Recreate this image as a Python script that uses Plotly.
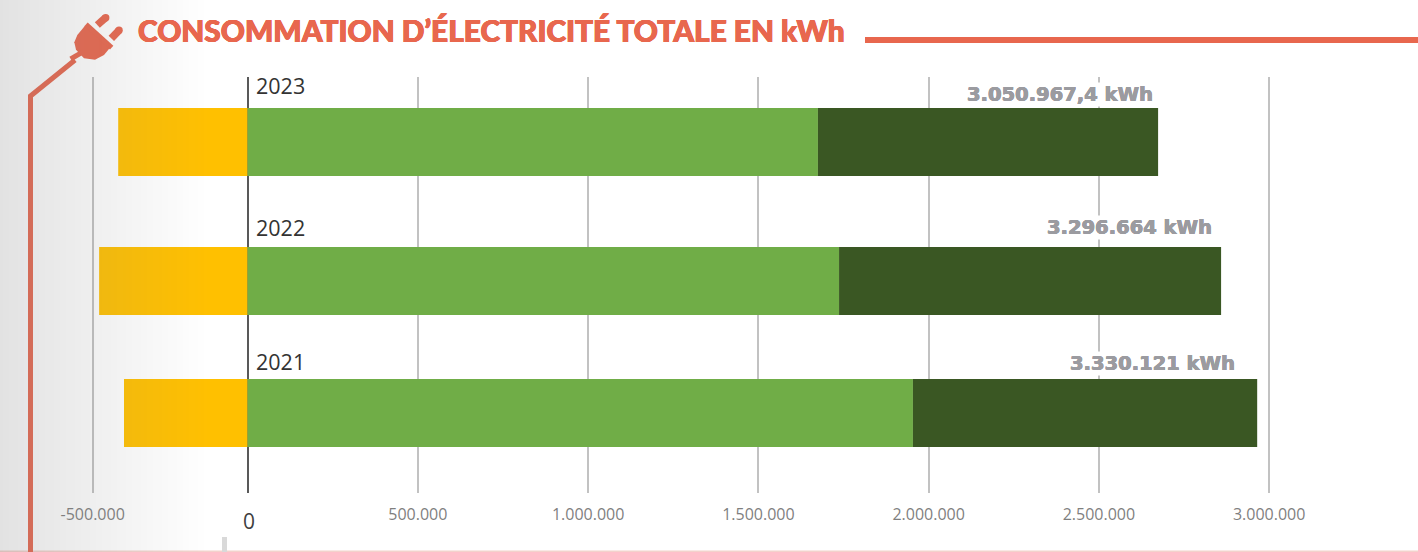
import plotly.graph_objects as go

# ---- data ----
years = ["2021", "2022", "2023"]
injected = [-363000, -436000, -380000]      # orange, left of zero
green_part = [1954000, 1737000, 1675000]    # light green
dark_part = [1011000, 1122000, 999000]      # dark green
total_labels = ["3.330.121 kWh", "3.296.664 kWh", "3.050.967,4 kWh"]
tick_labels = ["-500.000", "500.000", "1.000.000", "1.500.000", "2.000.000", "2.500.000", "3.000.000"]
tick_values = [-455000, 500000, 1000000, 1500000, 2000000, 2500000, 3000000]  # the source draws -500.000 off-scale

# ---- layout constants (pixels of the 1418x552 page) ----
W, H = 1418, 552
TOP, BOTTOM = 77, 493
ZERO_PX, PX_PER_UNIT = 247.6, 340.5 / 1e6
BAR_WIDTH = 0.502
bar_offset = [-BAR_WIDTH / 2, -BAR_WIDTH / 2 - 0.026, -BAR_WIDTH / 2]
year_shift = [52, 50.5, 57]
total_shift_y = [50, 50.5, 48]
total_shift_x = [-21, -8, -4]

RED = "#e8674e"
GREY_TEXT = "#9b9ba0"
ORANGE, GREEN, DARK = "#ffc000", "#70ad47", "#3a5723"


def fx(px):
    return px / W


def fy(py):
    return 1 - (py - TOP) / (BOTTOM - TOP)


def zoomed(x, y):
    return 20 + x / 3, 5 + y / 3


def path(points, close=True):
    s = "M " + " L ".join(f"{fx(x):.5f},{fy(y):.5f}" for x, y in points)
    return s + (" Z" if close else "")


def paper(**kw):
    return dict(xref="paper", yref="paper", **kw)


def halo(color, dx, dy):
    return f"{dx}px 0 0 {color}, -{dx}px 0 0 {color}, 0 {dy}px 0 {color}, 0 -{dy}px 0 {color}"


shapes = []
# heading rule, bottom edge and small grey tab
shapes.append(paper(type="rect", x0=fx(865), x1=fx(W), y0=fy(37), y1=fy(43), fillcolor=RED, line_width=0))
shapes.append(paper(type="rect", x0=0, x1=1, y0=fy(550.5), y1=fy(552), fillcolor="#f3d2cc", line_width=0))
shapes.append(paper(type="rect", x0=fx(222), x1=fx(227), y0=fy(537), y1=fy(552), fillcolor="#d9d9d9", line_width=0))
# cord
shapes.append(paper(type="path", path=path([(30.5, 552), (30.5, 96), (75, 60)], close=False),
                    line=dict(color=RED, width=5), fillcolor="rgba(0,0,0,0)"))
# plug body
body = [zoomed(*p) for p in [(195, 62), (172, 90), (163, 112), (168, 134), (192, 160), (225, 164),
                             (252, 150), (270, 128), (215, 78)]]
shapes.append(paper(type="path", path=path(body), fillcolor=RED, line_width=0))
# flange and neck
for a, b, w in [((198, 58), (275, 128), 5), ((152, 162), (190, 140), 5)]:
    shapes.append(paper(type="path", path=path([zoomed(*a), zoomed(*b)], close=False),
                        line=dict(color=RED, width=w), fillcolor="rgba(0,0,0,0)"))
# pins, with rounded tips
for a, b in [((232, 60), (257, 38)), ((274, 100), (297, 76))]:
    shapes.append(paper(type="path", path=path([zoomed(*a), zoomed(*b)], close=False),
                        line=dict(color=RED, width=7.5), fillcolor="rgba(0,0,0,0)"))
    cx, cy = zoomed(*b)
    shapes.append(paper(type="circle", x0=fx(cx - 3.75), x1=fx(cx + 3.75), y0=fy(cy - 3.75), y1=fy(cy + 3.75),
                        fillcolor=RED, line_width=0))
# grey wash over the left part of the page
STRIP, WASH_END = 3, 210
for left in range(0, WASH_END, STRIP):
    alpha = 0.228 * (1 - (left + STRIP / 2) / WASH_END)
    shapes.append(paper(type="rect", x0=fx(left), x1=fx(left + STRIP), y0=fy(0), y1=fy(H),
                        fillcolor=f"rgba(128,128,128,{alpha:.4f})", line_width=0, layer="above"))

fig = go.Figure()
fig.add_bar(y=years, x=injected, orientation="h", marker=dict(color=ORANGE, line_width=0),
            width=BAR_WIDTH, offset=bar_offset, name="orange")
fig.add_bar(y=years, x=green_part, orientation="h", marker=dict(color=GREEN, line_width=0),
            width=BAR_WIDTH, offset=bar_offset, name="green")
fig.add_bar(y=years, x=dark_part, orientation="h", marker=dict(color=DARK, line_width=0),
            width=BAR_WIDTH, offset=bar_offset, name="dark")

annotations = [
    paper(x=fx(136), y=fy(30), text="CONSOMMATION D’ÉLECTRICITÉ TOTALE EN kWh", showarrow=False,
          xanchor="left", yanchor="middle",
          font=dict(family="Lato", size=29.8, color=RED, weight=900, shadow=halo(RED, 0.5, 0.4))),
    paper(x=fx(249), y=fy(521), text="0", showarrow=False, xanchor="center", yanchor="middle",
          font=dict(family="Open Sans", size=21, color="#404040")),
]
for i, year in enumerate(years):
    # numeric-looking categories must be addressed by index on a category axis
    annotations.append(dict(x=0, y=i, xref="x", yref="y", text=year, showarrow=False, xanchor="left",
                            yanchor="middle", xshift=6, yshift=year_shift[i],
                            font=dict(family="Open Sans", size=21.5, color="#333333")))
    annotations.append(dict(x=green_part[i] + dark_part[i], y=i, xref="x", yref="y",
                            text=total_labels[i], showarrow=False, xanchor="right", yanchor="middle",
                            xshift=total_shift_x[i], yshift=total_shift_y[i], bgcolor="white", borderpad=0,
                            font=dict(family="DejaVu Sans", size=19.5, color=GREY_TEXT, weight=700,
                                      shadow=halo(GREY_TEXT, 0.4, 0.3))))

fig.update_layout(
    width=W, height=H, barmode="relative", showlegend=False,
    margin=dict(l=0, r=0, t=TOP, b=H - BOTTOM),
    paper_bgcolor="white", plot_bgcolor="white",
    shapes=shapes, annotations=annotations,
    xaxis=dict(range=[-ZERO_PX / PX_PER_UNIT, (W - ZERO_PX) / PX_PER_UNIT],
               tickmode="array", tickvals=tick_values, ticktext=tick_labels,
               showgrid=True, gridcolor="#c2c2c2", gridwidth=1.5,
               zeroline=True, zerolinecolor="#595959", zerolinewidth=1.5,
               ticks="outside", ticklen=7, tickcolor="rgba(0,0,0,0)", showline=False,
               tickfont=dict(family="Open Sans", size=16, color="#7f7f7f")),
    yaxis=dict(type="category", categoryorder="array", categoryarray=years,
               range=[-0.59, 2.48], showticklabels=False, showgrid=False, zeroline=False, showline=False,
               ticks=""),
)

fig.write_html("out.html", config=dict(displayModeBar=False),
               post_script="document.body.style.margin='0';")
